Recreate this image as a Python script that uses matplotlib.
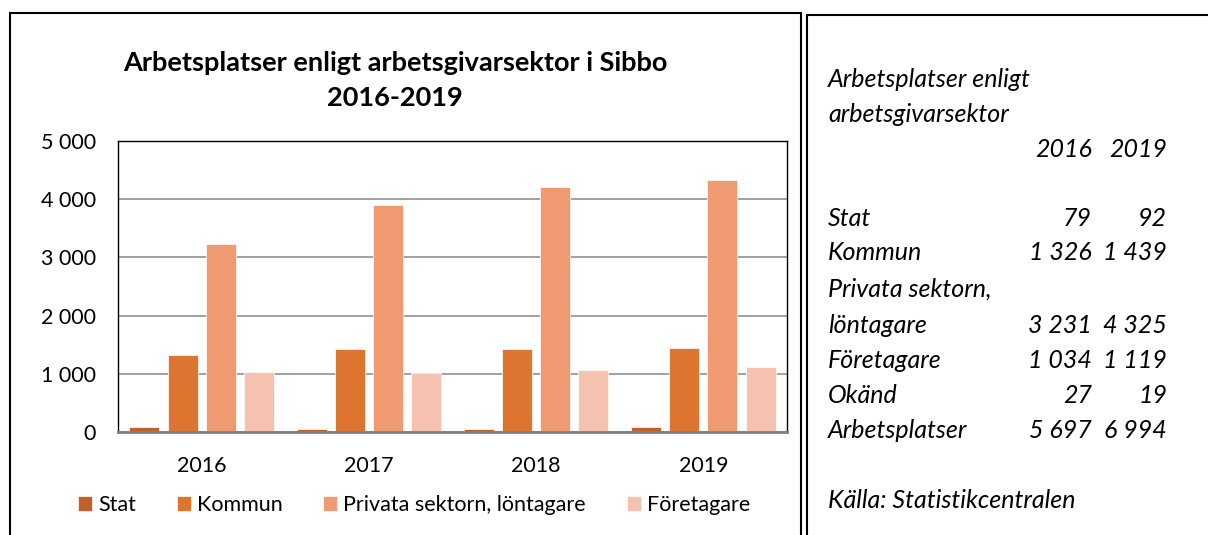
import matplotlib.pyplot as plt
from matplotlib.patches import Rectangle
import numpy as np

years = ['2016', '2017', '2018', '2019']
stat = [79, 60, 60, 92]
kommun = [1326, 1421, 1426, 1439]
privata = [3231, 3900, 4204, 4325]
foretagare = [1034, 1010, 1068, 1119]

series_names = ['Stat', 'Kommun', 'Privata sektorn, löntagare', 'Företagare']
series_colors = ['#C0612B', '#DD7430', '#F09A72', '#F5C2B0']

y_ticks = [0, 1000, 2000, 3000, 4000, 5000]

table_title = ['Arbetsplatser enligt', 'arbetsgivarsektor']
table_years = ['2016', '2019']
table_rows = ['Stat', 'Kommun', 'Privata sektorn,', 'löntagare',
              'Företagare', 'Okänd', 'Arbetsplatser']
table_2016 = ['79', '1 326', '', '3 231', '1 034', '27', '5 697']
table_2019 = ['92', '1 439', '', '4 325', '1 119', '19', '6 994']
source = 'Källa: Statistikcentralen'

plt.rcParams['font.family'] = ['Lato', 'DejaVu Sans']

W, H = 1208, 535


def fx(x):
    return x / W


def fy(y):
    return 1 - y / H


fig = plt.figure(figsize=(W / 100, H / 100), dpi=100)

# outer frames (left chart box and right text box)
fig.add_artist(Rectangle((fx(10), fy(545)), fx(801) - fx(10), fy(13) - fy(545),
                         transform=fig.transFigure, fill=False,
                         edgecolor='black', linewidth=1.5))
fig.add_artist(Rectangle((fx(807), fy(545)), fx(1215) - fx(807), fy(15) - fy(545),
                         transform=fig.transFigure, fill=False,
                         edgecolor='black', linewidth=1.5))

ax = fig.add_axes([fx(118), fy(432), fx(787) - fx(118), fy(141) - fy(432)])

x = np.arange(len(years))
width = 0.18
offsets = [-0.342, -0.114, 0.114, 0.342]
all_series = [stat, kommun, privata, foretagare]

bars = []
for vals, off, col, name in zip(all_series, offsets, series_colors, series_names):
    b = ax.bar(x + off, vals, width, color=col, edgecolor='white',
               linewidth=0.5, label=name, zorder=3)
    bars.append(b)

ax.set_xlim(-0.5, len(years) - 0.5)
ax.set_ylim(0, 5000)
ax.set_yticks(y_ticks)
ax.set_yticklabels([f'{v:,.0f}'.replace(',', ' ') for v in y_ticks])
ax.set_xticks(x)
ax.set_xticklabels(years)
ax.tick_params(axis='y', length=0, pad=16, labelsize=15.5)
ax.tick_params(axis='x', length=0, pad=17, labelsize=15.5)

ax.grid(axis='y', color='#9A9A9A', linewidth=1.3, zorder=0)
for s in ['top', 'left', 'right']:
    ax.spines[s].set_color('black')
    ax.spines[s].set_linewidth(1.0)
ax.spines['bottom'].set_color('#808080')
ax.spines['bottom'].set_linewidth(2.0)
ax.spines['bottom'].set_zorder(4)

# title, two lines
fig.text(fx(395), fy(71), 'Arbetsplatser enligt arbetsgivarsektor i Sibbo',
         ha='center', va='baseline', fontsize=19.5, fontweight='bold')
fig.text(fx(395), fy(106), '2016-2019',
         ha='center', va='baseline', fontsize=19.5, fontweight='bold')

# legend
fig.legend(handles=bars, labels=series_names, loc='center', ncol=4,
           bbox_to_anchor=(fx(414), fy(505)), frameon=False, fontsize=15.5,
           handlelength=0.65, handleheight=0.65, handletextpad=0.28,
           columnspacing=1.9)

# side table
left_x = 828
col1_x = 1092
col2_x = 1167
tsize = 18
fig.text(fx(left_x), fy(87), table_title[0], ha='left', va='baseline',
         fontsize=tsize, style='italic')
fig.text(fx(left_x), fy(122), table_title[1], ha='left', va='baseline',
         fontsize=tsize, style='italic')
fig.text(fx(col1_x), fy(157), table_years[0], ha='right', va='baseline',
         fontsize=tsize, style='italic')
fig.text(fx(col2_x), fy(157), table_years[1], ha='right', va='baseline',
         fontsize=tsize, style='italic')

row_y = [226, 260, 297, 333, 368, 403, 438]
for lab, v1, v2, yy in zip(table_rows, table_2016, table_2019, row_y):
    fig.text(fx(left_x), fy(yy), lab, ha='left', va='baseline',
             fontsize=tsize, style='italic')
    fig.text(fx(col1_x), fy(yy), v1, ha='right', va='baseline',
             fontsize=tsize, style='italic')
    fig.text(fx(col2_x), fy(yy), v2, ha='right', va='baseline',
             fontsize=tsize, style='italic')

fig.text(fx(left_x), fy(508), source, ha='left', va='baseline',
         fontsize=tsize, style='italic')

plt.savefig('out.png', dpi=100)
